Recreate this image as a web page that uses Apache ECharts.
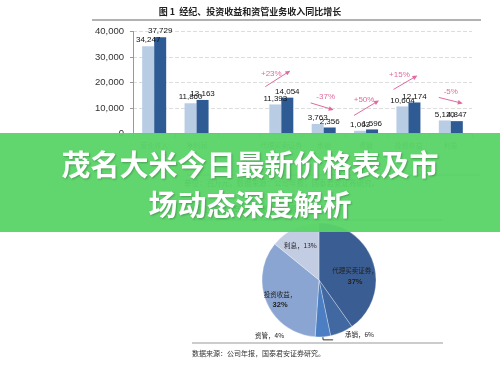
<!DOCTYPE html>
<html><head><meta charset="utf-8">
<script src="https://cdn.jsdelivr.net/npm/echarts@6/dist/echarts.min.js"></script>
<style>html,body{margin:0;padding:0;background:#fff}#c{width:500px;height:366px}</style>
</head><body><div id="c"></div>
<script>
// ---- data ----
const categories = ['营业收入', '净利润', '', '代理买卖证券', '承销', '资管', '投资收益', '利息'];
const prevValues = [34247, 11860, null, 11393, 3763, 1063, 10604, 5120];
const currValues = [37729, 13163, null, 14054, 2356, 1596, 12174, 4847];
const yMin = 0, yMax = 40000, yStep = 10000;
const changeCats = [3, 4, 5, 6, 7];
const changeLabels = ['+23%', '-37%', '+50%', '+15%', '-5%'];
const pieNames = ['代理买卖证券', '承销', '资管', '投资收益', '利息'];
const pieValues = [37, 6, 4, 32, 13];
const title1 = '图 1  经纪、投资收益和资管业务收入同比增长';
const note1 = '单位：百万元，数据来源：公司年报，国泰君安证券研究。';
const title2 = '图 2  2013年公司收入来源';
const note2 = '数据来源：公司年报，国泰君安证券研究。';
const bannerLines = ['茂名大米今日最新价格表及市', '场动态深度解析'];

// ---- styles ----
const CJK = '"Noto Sans CJK SC", sans-serif';
const ARIAL = 'Arial, "Liberation Sans", sans-serif';
const pieColors = ['#3a5e93', '#4168a1', '#4b7ec3', '#8ba5d2', '#c2cde4'];
const pieLabelPos = ['inside', 'outside', 'outside', 'inside', 'inside'];
const pieFormat = ['{b}，\n{p|{c}%}', '{b}，{c}%', '{b}，{c}%', '{b}，\n{p|{c}%}', '{b}，{c}%'];
const pieShift = [[3, 3], [-6.5, -0.5], [-41.5, -2], [-5, 3.5], [-2.5, -3]];
// annotation geometry relative to (category centre, top of taller bar)
const annGeom = [
  [-16, -11, 9, -27, -10, -24],
  [-13, -21, 10, -14, 2, -27],
  [-12, -14, 13, -29, -2, -30],
  [-15, -13, 9, -27, -9, -28],
  [-12, -23, 12, -17, 0, -29]
];
const PINK = '#e06a9f';

const fmt = v => (v == null ? '' : Number(v).toLocaleString('en-US'));

const chart = echarts.init(document.getElementById('c'));
const barLabel = {show: true, position: 'top', distance: 2, fontSize: 8, color: '#111', fontFamily: ARIAL,
  formatter: p => fmt(p.value)};

const pieData = pieNames.map((n, i) => ({
  name: n, value: pieValues[i],
  itemStyle: {color: pieColors[i]},
  label: {position: pieLabelPos[i], formatter: pieFormat[i]},
  labelLine: {show: i === 2, length: 3, length2: 10, lineStyle: {color: '#333', width: 1}}
}));

chart.setOption({
  animation: false,
  backgroundColor: '#fff',
  grid: {left: 133, right: 28, top: 31.5, bottom: 232.5},
  xAxis: {
    type: 'category', data: categories,
    axisLine: {lineStyle: {color: '#999'}},
    axisTick: {show: true, length: 4, lineStyle: {color: '#999'}},
    axisLabel: {fontFamily: CJK, fontSize: 7, color: '#555', margin: 8, interval: 0}
  },
  yAxis: {
    type: 'value', min: yMin, max: yMax, interval: yStep,
    axisLine: {show: true, lineStyle: {color: '#999'}},
    axisTick: {show: true, length: 3, lineStyle: {color: '#999'}},
    splitLine: {lineStyle: {type: 'dashed', color: '#ddd'}},
    axisLabel: {fontFamily: ARIAL, fontSize: 9.5, color: '#333', margin: 9, formatter: v => fmt(v)}
  },
  series: [
    {type: 'bar', data: prevValues, barWidth: 12, barGap: '0%', itemStyle: {color: '#b8cce4'}, label: barLabel},
    {type: 'bar', data: currValues, barWidth: 12, barGap: '0%', itemStyle: {color: '#2e5b94'}, label: barLabel},
    {
      type: 'pie', center: [319, 280], radius: 57, startAngle: 90, clockwise: true,
      data: pieData, avoidLabelOverlap: false,
      itemStyle: {borderColor: '#fff', borderWidth: 0.3},
      label: {show: true, fontFamily: CJK, fontSize: 6.5, color: '#222', lineHeight: 11,
        rich: {p: {fontFamily: ARIAL, fontSize: 7.5, fontWeight: 'bold', color: '#222'}}},
      labelLayout: p => ({dx: pieShift[p.dataIndex][0], dy: pieShift[p.dataIndex][1]})
    }
  ]
});

// ---- annotations & decorations ----
const g = [];
g.push({type: 'text', left: 'center', top: 7, z: 10, style: {text: title1, font: 'bold 9px ' + CJK, fill: '#222'}});
g.push({type: 'line', z: 10, shape: {x1: 92, y1: 20, x2: 481, y2: 20}, style: {stroke: '#999', lineWidth: 1.5}});
g.push({type: 'line', z: 10, shape: {x1: 187, y1: 175, x2: 480, y2: 175}, style: {stroke: '#888', lineWidth: 1}});
g.push({type: 'text', x: 184, y: 179, z: 10, style: {text: note1, font: '7.5px ' + CJK, fill: '#333'}});
g.push({type: 'text', x: 192, y: 205, z: 10, style: {text: title2, font: 'bold 9px ' + CJK, fill: '#222'}});
g.push({type: 'line', z: 10, shape: {x1: 192, y1: 220, x2: 443, y2: 220}, style: {stroke: '#888', lineWidth: 1}});
g.push({type: 'line', z: 10, shape: {x1: 192, y1: 343, x2: 443, y2: 343}, style: {stroke: '#999', lineWidth: 1}});
g.push({type: 'text', x: 192, y: 350, z: 10, style: {text: note2, font: '7px ' + CJK, fill: '#333'}});

changeCats.forEach((ci, k) => {
  const top = Math.max(prevValues[ci], currValues[ci]);
  const [cx, cy] = chart.convertToPixel({gridIndex: 0}, [ci, top]);
  const a = annGeom[k];
  const x1 = cx + a[0], y1 = cy + a[1], x2 = cx + a[2], y2 = cy + a[3];
  const len = Math.hypot(x2 - x1, y2 - y1), ux = (x2 - x1) / len, uy = (y2 - y1) / len;
  const nx = -uy, ny = ux, hl = 5, hw = 2.3;
  g.push({type: 'line', z: 20, shape: {x1, y1, x2: x2 - ux * 3, y2: y2 - uy * 3}, style: {stroke: PINK, lineWidth: 1}});
  g.push({type: 'polygon', z: 20, shape: {points: [[x2, y2], [x2 - hl * ux + hw * nx, y2 - hl * uy + hw * ny], [x2 - hl * ux - hw * nx, y2 - hl * uy - hw * ny]]}, style: {fill: PINK}});
  g.push({type: 'text', z: 20, x: cx + a[4], y: cy + a[5], style: {text: changeLabels[k], font: '8px ' + ARIAL, fill: PINK, align: 'center', verticalAlign: 'middle'}});
});

// banner
g.push({type: 'rect', z: 100, shape: {x: 0, y: 133, width: 500, height: 99}, style: {fill: 'rgba(88,212,102,0.95)'}});
bannerLines.forEach((t, i) => {
  g.push({type: 'text', z: 101, x: 250, y: 165 + i * 40, style: {text: t, font: 'bold 29px ' + CJK, fill: '#fff', align: 'center', verticalAlign: 'middle',
    textShadowColor: 'rgba(0,0,0,0.25)', textShadowBlur: 2, textShadowOffsetX: 1, textShadowOffsetY: 1}});
});

chart.setOption({graphic: g});
</script>
</body></html>
